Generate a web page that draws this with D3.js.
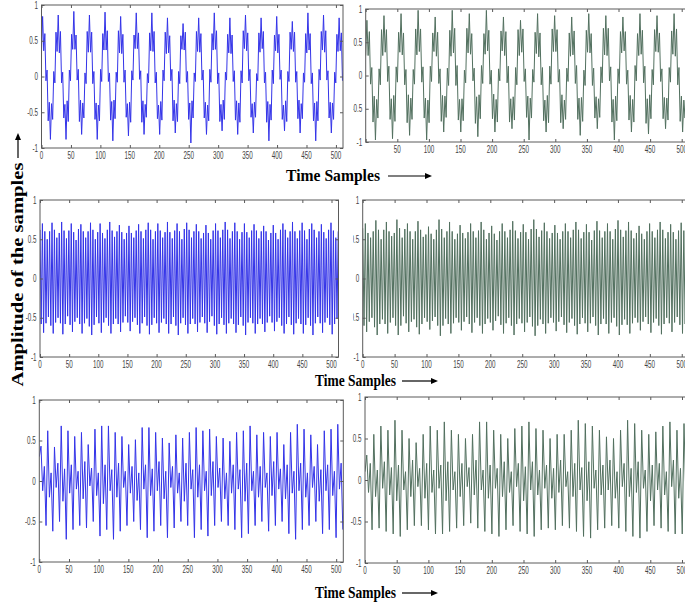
<!DOCTYPE html>
<html><head><meta charset="utf-8">
<script src="https://cdn.jsdelivr.net/npm/d3@7"></script>
<style>body{margin:0;background:#fff}svg{display:block}</style>
</head><body>
<svg id="c" width="685" height="608"></svg>
<script>
// ---------- data ----------
const xTickValues = [0,50,100,150,200,250,300,350,400,450,500];
const xTickValuesNoZero = [50,100,150,200,250,300,350,400,450,500];
const yTickValues = [-1,-0.5,0,0.5,1];
const sampleCount = 512;

// successive extrema of each signal (amplitude x100),
// and the spacing in samples between successive extrema
const stepTopLeft = 1.893;
const sigTopLeft = [36,
84,36,60,-6,9,-62,-36,-88,-38,-60,7,-9,62,35,
86,33,63,-9,6,-58,-39,-88,-34,-63,9,-6,59,38,
91,38,58,-5,10,-63,-33,-81,-37,-58,5,-10,63,34,
86,34,62,-10,7,-60,-37,-88,-40,-62,10,-7,60,37,
90,37,64,-7,5,-61,-35,-90,-33,-59,6,-8,64,33,
84,32,59,-8,9,-57,-38,-83,-36,-64,8,-5,58,39,
89,39,61,-4,8,-64,-34,-81,-39,-57,4,-9,61,36,
89,35,63,-9,6,-59,-40,-81,-35,-61,9,-6,62,32,
82,33,57,-6,10,-62,-33,-79,-38,-63,7,-10,57,38,
74,37,62,-8,7,-60,-37,-93,-34,-58,5,-7,63,35,
82,34,60,-5,9,-58,-36,-81,-40,-62,10,-8,60,37,
89,38,64,-10,5,-63,-39,-76,-33,-60,6,-5,59,33,
82,32,58,-7,8,-61,-34,-81,-37,-64,8,-9,64,39,
86,36,61,-6,10,-57,-38,-79,-36,-57,4,-6,61,34,
82,39,63,-9,6,-64,-35,-90,-39,-61,9,-10,58,36,
84,33,59,-4,9,-60,-40,-76,-34,-63,7,-7,62,38,
77,35,62,-8,7,-59,-33,-79,-38,-59,5,-8,60,33,
89,37,60,-10,5,-62,-37,-90,-35,-62,10,-5,63,37,
86,34,64,-5,8,-58,-36,-79,-37,-60,6,-9,59,35,
82,36,61,-6];

const stepTopRight = 1.9286;
const sigTopRight = [30,
83,30,66,-13,12,-70,-31,-97,-36,-64,10,-14,69,30,
90,35,69,-9,14,-66,-35,-95,-30,-69,13,-10,65,35,
93,31,64,-14,9,-71,-29,-90,-34,-66,9,-13,70,31,
98,36,70,-10,13,-64,-34,-97,-37,-71,14,-9,64,36,
88,29,65,-12,10,-69,-30,-85,-31,-63,11,-15,68,29,
98,34,71,-15,15,-67,-36,-85,-35,-68,8,-11,71,34,
93,32,63,-8,11,-72,-32,-92,-29,-65,15,-12,63,32,
98,37,68,-13,8,-65,-28,-85,-36,-70,10,-8,67,37,
88,30,66,-11,14,-70,-35,-80,-32,-67,12,-14,69,30,
83,35,70,-9,10,-63,-31,-97,-34,-64,9,-10,65,33,
93,28,64,-14,12,-68,-37,-85,-30,-71,14,-13,70,36,
90,36,69,-10,9,-71,-29,-80,-37,-66,11,-9,64,29,
88,31,67,-12,15,-66,-34,-90,-33,-69,8,-15,68,35,
93,34,63,-15,11,-64,-32,-80,-35,-63,13,-11,71,31,
90,30,71,-8,13,-70,-36,-97,-31,-68,10,-12,66,34,
88,37,66,-13,8,-67,-30,-85,-36,-70,15,-8,63,30,
93,32,68,-11,14,-72,-35,-88,-29,-65,9,-14,69,36,
90,35,64,-9,10,-65,-33,-80,-34,-67,12,-10,67,32,
93,29,70,-14,12,-69,-31,-85,-37,-64,11,-13,65];

const stepMidLeft = 2.0625;
const sigMidLeft = [
62,-58,70,-69,60,-57,50,-49, 60,-60,71,-70,62,-56,52,-50,
58,-57,72,-71,61,-58,51,-48, 61,-59,70,-68,59,-55,49,-50,
63,-58,69,-70,60,-57,52,-51, 60,-61,71,-72,62,-59,50,-49,
59,-57,70,-69,58,-56,51,-50, 62,-60,72,-70,61,-58,53,-51,
60,-58,68,-68,59,-56,50,-48, 58,-56,67,-67,58,-55,52,-50,
61,-59,69,-70,60,-57,51,-49, 62,-60,71,-71,62,-59,50,-50,
60,-57,70,-69,61,-56,52,-51, 59,-58,72,-70,59,-58,51,-49,
61,-60,70,-72,60,-57,50,-50, 63,-59,71,-70,62,-58,52,-51,
60,-58,69,-68,60,-56,51,-49, 58,-57,68,-69,58,-55,50,-48,
61,-60,70,-71,61,-58,52,-50, 62,-59,72,-70,62,-57,51,-51,
60,-58,71,-69,60,-59,50,-49, 59,-60,70,-72,59,-56,52,-50,
61,-57,69,-70,61,-58,51,-51, 60,-58,67,-68,60,-56,49,-48,
58,-56,68,-67,58,-55,50,-50, 62,-60,70,-70,62,-58,52,-49,
60,-59,72,-71,60,-57,51,-51, 61,-58,71,-70,61,-59,50,-50,
63,-60,70,-72,62,-57,52,-49, 60,-57,69,-69,59,-56,51,-50,
62,-59,71,-71,61,-58,52,-51, 60];

const stepMidRight = 2.0625;
const sigMidRight = [
64,-60,70,-68,58,-55,52,-50, 60,-62,74,-72,62,-58,50,-52,
62,-58,72,-70,60,-56,54,-50, 58,-60,75,-72,64,-60,52,-48,
63,-57,70,-68,60,-55,50,-52, 60,-62,73,-71,62,-58,53,-50,
56,-55,66,-65,57,-54,50,-49, 62,-60,75,-73,63,-60,52,-51,
60,-58,72,-70,60,-57,50,-50, 57,-56,68,-66,58,-55,51,-49,
59,-58,70,-69,60,-56,52,-50, 61,-60,72,-70,62,-58,50,-51,
58,-56,67,-66,57,-54,49,-48, 60,-59,70,-70,60,-57,52,-50,
62,-60,73,-72,61,-58,51,-51, 59,-57,69,-68,59,-56,50,-49,
63,-61,75,-73,63,-60,53,-52, 61,-58,71,-70,60,-57,51,-50,
58,-56,68,-67,58,-55,50,-49, 60,-59,70,-69,60,-56,52,-51,
62,-60,72,-71,62,-58,51,-50, 59,-57,69,-68,59,-57,49,-49,
61,-60,73,-72,61,-58,52,-51, 60,-58,70,-70,60,-56,50,-50,
63,-61,74,-72,62,-59,53,-52, 61,-59,72,-70,61,-57,51,-50,
58,-56,67,-66,57,-55,50,-49, 60,-58,70,-69,60,-56,52,-51,
62,-60,72,-71,62,-58,51,-50, 59,-57,69,-68,59,-56,50,-49,
61,-59,71,-70,61,-58,52,-51, 58];

const stepBotLeft = 2.84;
const sigBotLeft = [30,
43,-12,18,-55, 62,-20,10,-62, 42,-8,22,-50, 68,-25,15,-72, 62,-15,20,-60,
55,-10,12,-55, 60,-22,24,-58, 45,-6,16,-50, 64,-18,10,-68, 68,-28,20,-60,
68,-12,14,-72, 60,-20,22,-62, 55,-8,12,-55, 45,-15,18,-50, 51,-24,10,-60,
66,-10,20,-70, 66,-18,15,-62, 60,-12,24,-55, 53,-22,12,-70, 47,-8,18,-58,
57,-15,10,-50, 53,-25,22,-55, 60,-10,14,-70, 66,-20,20,-60, 62,-12,12,-68,
64,-18,24,-55, 55,-8,16,-50, 53,-22,10,-55, 49,-15,20,-60, 60,-10,14,-70,
62,-25,22,-65, 68,-12,12,-55, 57,-20,18,-50, 60,-8,10,-62, 55,-18,24,-55,
60,-10,15,-50, 45,-22,20,-65, 60,-15,12,-72, 70,-12,22,-60, 64,-20,10,-55,
57,-8,18,-50, 45,-25,14,-65, 62,-12,20,-60, 64,-18,12,-70, 70,-10,22,-60];

const stepBotRight = 2.78;
const sigBotRight = [10,
30,-15,20,-60, 55,-20,12,-58, 65,-10,22,-62, 60,-18,15,-65, 72,-25,18,-68,
60,-12,10,-60, 50,-20,24,-55, 45,-8,14,-55, 55,-22,20,-60, 65,-15,12,-65,
60,-10,18,-65, 70,-25,22,-62, 60,-12,10,-58, 55,-20,20,-55, 50,-8,15,-52,
55,-18,24,-58, 70,-12,12,-62, 70,-22,18,-65, 60,-10,14,-68, 55,-20,22,-60,
50,-15,10,-55, 62,-8,20,-62, 65,-25,16,-65, 70,-12,22,-68, 62,-18,12,-60,
60,-10,18,-58, 50,-22,14,-60, 55,-15,24,-55, 55,-8,10,-58, 60,-20,20,-62,
72,-12,15,-68, 68,-25,22,-70, 65,-10,12,-60, 60,-18,18,-58, 52,-12,24,-55,
50,-22,10,-58, 60,-8,20,-62, 72,-20,14,-68, 68,-15,22,-70, 60,-10,12,-62,
55,-25,18,-55, 58,-12,20,-58, 65,-18,10,-62, 70,-8,24,-65, 60,-22,14,-65,
68,-15,20,-60];

// ---------- layout ----------
const BLUE = "#3434e8", GREEN = "#52705f";
const panels = [
  {data: sigTopLeft,  step: stepTopLeft,  color: BLUE,  L: 41.5, R: 343,   T: 5,   B: 148, ticks: xTickValues,       cut: null},
  {data: sigTopRight, step: stepTopRight, color: GREEN, L: 365.7,R: 689.3, T: 9,   B: 142, ticks: xTickValuesNoZero, cut: 353},
  {data: sigMidLeft,  step: stepMidLeft,  color: BLUE,  L: 40,   R: 338.5, T: 200, B: 357, ticks: xTickValues,       cut: null},
  {data: sigMidRight, step: stepMidRight, color: GREEN, L: 362.7,R: 689.4, T: 200, B: 357, ticks: xTickValues,       cut: 353},
  {data: sigBotLeft,  step: stepBotLeft,  color: BLUE,  L: 39.3, R: 343.3, T: 400, B: 562, ticks: xTickValues,       cut: null},
  {data: sigBotRight, step: stepBotRight, color: GREEN, L: 365,  R: 689.6, T: 397, B: 563, ticks: xTickValues,       cut: null}
];

const svg = d3.select("#c");
const defs = svg.append("defs");
const AX = "#5a5a5a";
const tickFont = "'Liberation Sans', Arial, sans-serif";

panels.forEach((p, k) => {
  const x = d3.scaleLinear().domain([0, sampleCount]).range([p.L, p.R]);
  const y = d3.scaleLinear().domain([-1, 1]).range([p.B, p.T]);

  let g = svg.append("g");
  if (p.cut !== null) {
    defs.append("clipPath").attr("id", "cut" + k).append("rect")
      .attr("x", p.cut).attr("y", 0).attr("width", 685 - p.cut).attr("height", 608);
    g.attr("clip-path", `url(#cut${k})`);
  }
  defs.append("clipPath").attr("id", "plot" + k).append("rect")
    .attr("x", p.L).attr("y", p.T).attr("width", p.R - p.L).attr("height", p.B - p.T);

  // signal
  const line = d3.line().x((d, i) => x(i * p.step)).y(d => y(d / 100));
  g.append("path").datum(p.data)
    .attr("clip-path", `url(#plot${k})`)
    .attr("d", line).attr("fill", "none")
    .attr("stroke", p.color).attr("stroke-width", 1).attr("stroke-linejoin", "miter");

  // inner ticks on all four sides
  const tk = (axis, tr) => g.append("g").attr("transform", tr)
      .call(axis.tickSizeInner(-3).tickSizeOuter(0).tickFormat(""))
      .call(s => s.select(".domain").remove())
      .call(s => s.selectAll("line").attr("stroke", AX));
  tk(d3.axisBottom(x).tickValues(xTickValues), `translate(0,${p.B})`);
  tk(d3.axisTop(x).tickValues(xTickValues), `translate(0,${p.T})`);
  tk(d3.axisLeft(y).tickValues(yTickValues), `translate(${p.L},0)`);
  tk(d3.axisRight(y).tickValues(yTickValues), `translate(${p.R},0)`);

  // frame
  g.append("rect").attr("x", p.L).attr("y", p.T).attr("width", p.R - p.L).attr("height", p.B - p.T)
    .attr("fill", "none").attr("stroke", AX).attr("stroke-width", 1);

  // tick labels (condensed like the original)
  g.selectAll(null).data(p.ticks).join("text")
    .attr("transform", d => `translate(${x(d)},${p.B + 11.3}) scale(0.6,1)`)
    .attr("text-anchor", "middle").attr("font-family", tickFont).attr("font-size", 10.5)
    .attr("fill", "#444").text(d => String(d));
  g.selectAll(null).data(yTickValues).join("text")
    .attr("transform", d => `translate(${p.L - 3.5},${y(d) + 3.6}) scale(0.6,1)`)
    .attr("text-anchor", "end").attr("font-family", tickFont).attr("font-size", 10.5)
    .attr("fill", "#444").text(d => String(d));
});

// axis titles
const serif = "'Liberation Serif', 'Times New Roman', serif";
function arrowH(x0, x1, yy) {
  svg.append("line").attr("x1", x0).attr("x2", x1 - 5).attr("y1", yy).attr("y2", yy)
    .attr("stroke", "#000").attr("stroke-width", 1.2);
  svg.append("path").attr("d", `M${x1},${yy} L${x1 - 7},${yy - 3} L${x1 - 7},${yy + 3} Z`).attr("fill", "#000");
}
const timeLabels = [
  {x: 286, y: 181, w: 94, ax0: 388, ax1: 432},
  {x: 315, y: 386, w: 81, ax0: 402, ax1: 438},
  {x: 315, y: 598, w: 81, ax0: 402, ax1: 438}
];
timeLabels.forEach(t => {
  svg.append("text").attr("x", t.x).attr("y", t.y)
    .attr("font-family", serif).attr("font-weight", "bold").attr("font-size", 17)
    .attr("textLength", t.w).attr("lengthAdjust", "spacingAndGlyphs")
    .text("Time Samples");
  arrowH(t.ax0, t.ax1, t.y - 5);
});

svg.append("text").attr("transform", "translate(23,274.5) rotate(-90)")
  .attr("text-anchor", "middle")
  .attr("font-family", serif).attr("font-weight", "bold").attr("font-size", 16.5)
  .attr("textLength", 224).attr("lengthAdjust", "spacingAndGlyphs")
  .text("Amplitude of the samples");
svg.append("line").attr("x1", 18).attr("x2", 18).attr("y1", 158).attr("y2", 139)
  .attr("stroke", "#000").attr("stroke-width", 1.2);
svg.append("path").attr("d", "M18,133 L15,140 L21,140 Z").attr("fill", "#000");
</script>
</body></html>
